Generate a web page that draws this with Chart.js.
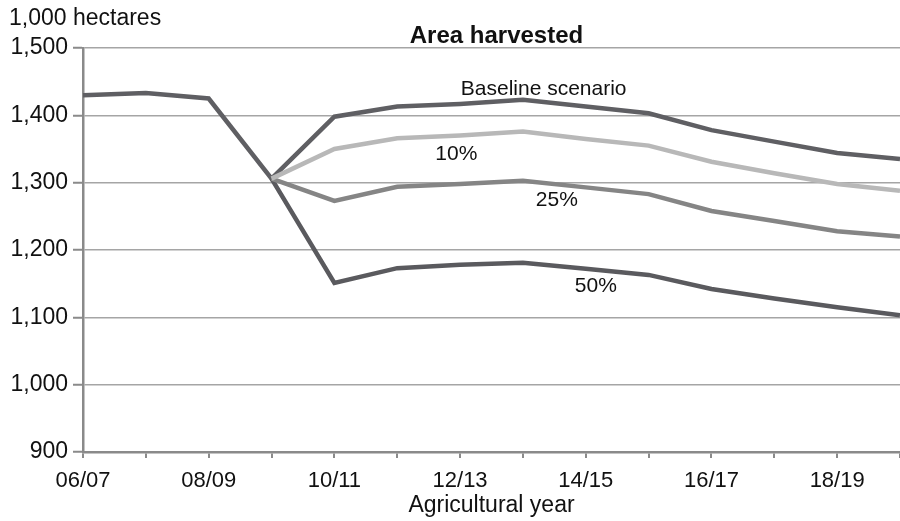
<!DOCTYPE html>
<html>
<head>
<meta charset="utf-8">
<script src="https://cdn.jsdelivr.net/npm/chart.js@4/dist/chart.umd.min.js"></script>
<style>
  html, body { margin: 0; padding: 0; background: #fff; }
  #wrap { width: 900px; height: 521px; position: relative; }
</style>
</head>
<body>
<div id="wrap"><canvas id="canvas"></canvas></div>
<script>
// agricultural years on the x axis
var YEARS = ["06/07", "07/08", "08/09", "09/10", "10/11", "11/12", "12/13", "13/14", "14/15", "15/16", "16/17", "17/18", "18/19", "19/20"];

// area harvested, 1,000 hectares (history included in the baseline)
var BASELINE = [1430, 1433, 1425, 1306, 1398, 1413, 1417, 1423, 1413, 1403, 1378, 1361, 1344, 1335];
var CUT_10 = [null, null, null, 1306, 1350, 1366, 1370, 1376, 1365, 1355, 1331, 1314, 1298, 1288];
var CUT_25 = [null, null, null, 1306, 1273, 1294, 1298, 1303, 1293, 1283, 1258, 1243, 1228, 1220];
var CUT_50 = [null, null, null, 1306, 1151, 1173, 1178, 1181, 1172, 1163, 1142, 1128, 1115, 1103];

var Y_MIN = 900, Y_MAX = 1500, Y_STEP = 100;

// line labels: text, x index, value at text baseline
var LINE_LABELS = [
  ["Baseline scenario", 7.33, 1430],
  ["10%", 5.94, 1334],
  ["25%", 7.54, 1265],
  ["50%", 8.16, 1137]
];

var FONT = "'Liberation Sans', Arial, Helvetica, sans-serif";

/* text drawn on top: titles + line labels */
var textPlugin = {
  id: 'textPlugin',
  afterDraw: function(chart) {
    var c = chart.ctx, a = chart.chartArea;
    var xs = chart.scales.x, ys = chart.scales.y;
    c.save();
    c.fillStyle = '#111';
    c.textBaseline = 'alphabetic';

    c.font = '23px ' + FONT;
    c.textAlign = 'left';
    c.fillText('1,000 hectares', 9, 25);

    c.font = 'bold 24px ' + FONT;
    c.textAlign = 'center';
    c.fillText('Area harvested', (a.left + a.right) / 2 + 5, 43);

    c.font = '21px ' + FONT;
    LINE_LABELS.forEach(function(l) {
      var i0 = Math.floor(l[1]);
      var x = xs.getPixelForValue(i0) + (xs.getPixelForValue(i0 + 1) - xs.getPixelForValue(i0)) * (l[1] - i0);
      c.fillText(l[0], x, ys.getPixelForValue(l[2]));
    });
    c.restore();
  }
};

function makeSet(label, data, col) {
  return {
    label: label,
    data: data,
    borderColor: col,
    backgroundColor: col,
    borderWidth: 4.5,
    pointRadius: 0,
    tension: 0,
    fill: false
  };
}

var ctx = document.getElementById('canvas').getContext('2d');
window.myLine = new Chart(ctx, {
  type: 'line',
  data: {
    labels: YEARS,
    datasets: [
      makeSet('10%', CUT_10, '#b8b8b8'),
      makeSet('25%', CUT_25, '#858585'),
      makeSet('50%', CUT_50, '#5a5a5e'),
      makeSet('Baseline scenario', BASELINE, '#5f5f63')
    ]
  },
  options: {
    responsive: true,
    maintainAspectRatio: false,
    animation: false,
    layout: { padding: { top: 48, right: 0, left: 0, bottom: 0 } },
    plugins: {
      legend: { display: false },
      title: { display: false },
      tooltip: { enabled: false }
    },
    scales: {
      x: {
        offset: false,
        border: { color: '#8a8a8a', width: 2.5 },
        grid: { drawOnChartArea: false, drawTicks: true, tickLength: 6, color: '#8a8a8a', lineWidth: 2 },
        ticks: {
          autoSkip: false,
          maxRotation: 0,
          color: '#111',
          padding: 10,
          font: { family: FONT, size: 22 },
          callback: function(v, i) { return i % 2 === 0 ? YEARS[i] : ''; }
        },
        title: {
          display: true,
          text: 'Agricultural year',
          color: '#111',
          font: { family: FONT, size: 23 },
          padding: { top: 0, bottom: 2 }
        },
        afterFit: function(s) {
          s.height = 69;
          s.paddingLeft = 0;
          s.paddingRight = 0;
        }
      },
      y: {
        min: Y_MIN,
        max: Y_MAX,
        border: { color: '#8a8a8a', width: 2.5 },
        grid: { color: '#a5a5a5', lineWidth: 1.5, tickLength: 10, tickColor: '#8a8a8a', tickWidth: 2 },
        ticks: {
          stepSize: Y_STEP,
          color: '#111',
          padding: 5,
          font: { family: FONT, size: 23 },
          callback: function(v) { return v.toLocaleString('en-US'); }
        },
        afterFit: function(s) {
          s.width = 83;
          s.paddingTop = 0;
          s.paddingBottom = 0;
        }
      }
    }
  },
  plugins: [textPlugin]
});
</script>
</body>
</html>
